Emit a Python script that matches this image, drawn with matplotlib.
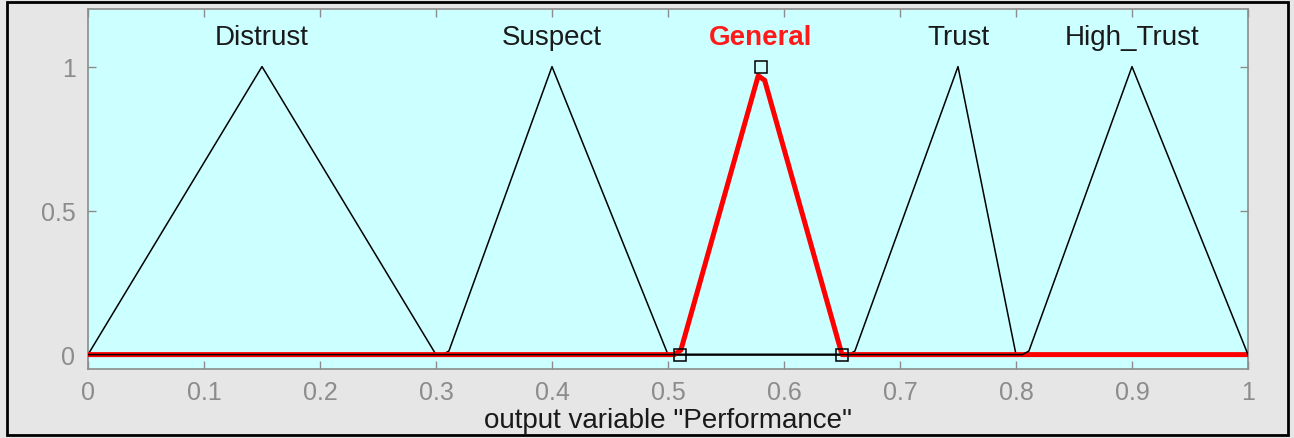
import matplotlib
matplotlib.use("Agg")
import matplotlib.pyplot as plt
import numpy as np
from matplotlib.patches import Rectangle

# Membership functions (triangular: a, b, c)
mf_names = ["Distrust", "Suspect", "General", "Trust", "High_Trust"]
mf_a = [0.00, 0.31, 0.51, 0.66, 0.81]
mf_b = [0.15, 0.40, 0.58, 0.75, 0.90]
mf_c = [0.30, 0.50, 0.65, 0.80, 1.00]
selected = "General"
x_range = [0.0, 1.0]
n_samples = 181
x_ticks = [0, 0.1, 0.2, 0.3, 0.4, 0.5, 0.6, 0.7, 0.8, 0.9, 1]
x_ticklabels = ["0", "0.1", "0.2", "0.3", "0.4", "0.5", "0.6", "0.7", "0.8", "0.9", "1"]
y_ticks = [0, 0.5, 1]
y_ticklabels = ["0", "0.5", "1"]
x_label = 'output variable "Performance"'

plt.rcParams['font.family'] = ['Liberation Sans', 'DejaVu Sans']

fig = plt.figure(figsize=(12.94, 4.39), dpi=100, facecolor="#e6e6e6")
ax = fig.add_axes([88/1294, 69/439, 1160/1294, 360/439])
ax.set_facecolor("#ccffff")

xs = np.linspace(x_range[0], x_range[1], n_samples)

def trimf(x, a, b, c):
    left = np.where(b > a, (x - a) / (b - a if b > a else 1), 1.0)
    right = np.where(c > b, (c - x) / (c - b if c > b else 1), 1.0)
    return np.clip(np.minimum(left, right), 0, 1)

sel = mf_names.index(selected)
last = len(mf_names) - 1
order = [i for i in range(len(mf_names)) if i != sel and i != last]
for i in order:
    ax.plot(xs, trimf(xs, mf_a[i], mf_b[i], mf_c[i]), color="black", lw=1.1, zorder=2)
ax.plot(xs, trimf(xs, mf_a[sel], mf_b[sel], mf_c[sel]), color="#ff0000", lw=3.6, zorder=3)
if last != sel:
    ax.plot(xs, trimf(xs, mf_a[last], mf_b[last], mf_c[last]), color="black", lw=1.1, zorder=4)
# selected MF vertex markers
ax.plot([mf_a[sel], mf_b[sel], mf_c[sel]], [0, 1, 0], linestyle="none",
        marker="s", markersize=8, markerfacecolor="none",
        markeredgecolor="black", markeredgewidth=1.1, zorder=5)

for i, name in enumerate(mf_names):
    if i == sel:
        ax.text(mf_b[i], 1.104, name, ha="center", va="center",
                fontsize=20, color="#ff1a1a", fontweight="bold")
    else:
        ax.text(mf_b[i], 1.104, name, ha="center", va="center",
                fontsize=20, color="#1a1a1a")

ax.set_xlim(0, 1)
ax.set_ylim(-0.05, 1.2)
ax.set_xticks(x_ticks)
ax.set_xticklabels(x_ticklabels)
ax.set_yticks(y_ticks)
ax.set_yticklabels(y_ticklabels)
ax.tick_params(axis="both", direction="in", length=6, width=1,
               color="#8c8c8c", labelcolor="#8c8c8c", labelsize=18,
               top=True, right=True)
ax.tick_params(axis="x", pad=8)
ax.tick_params(axis="y", pad=9)
for s in ax.spines.values():
    s.set_color("#8c8c8c")
    s.set_linewidth(1.2)
ax.set_xlabel(x_label, fontsize=20, color="#1a1a1a", labelpad=2)

fig.patches.append(Rectangle((7/1294, 3/439), 1281/1294, 433/439,
                             transform=fig.transFigure, fill=False,
                             edgecolor="black", linewidth=2))

fig.savefig("out.png", dpi=100, facecolor=fig.get_facecolor())
